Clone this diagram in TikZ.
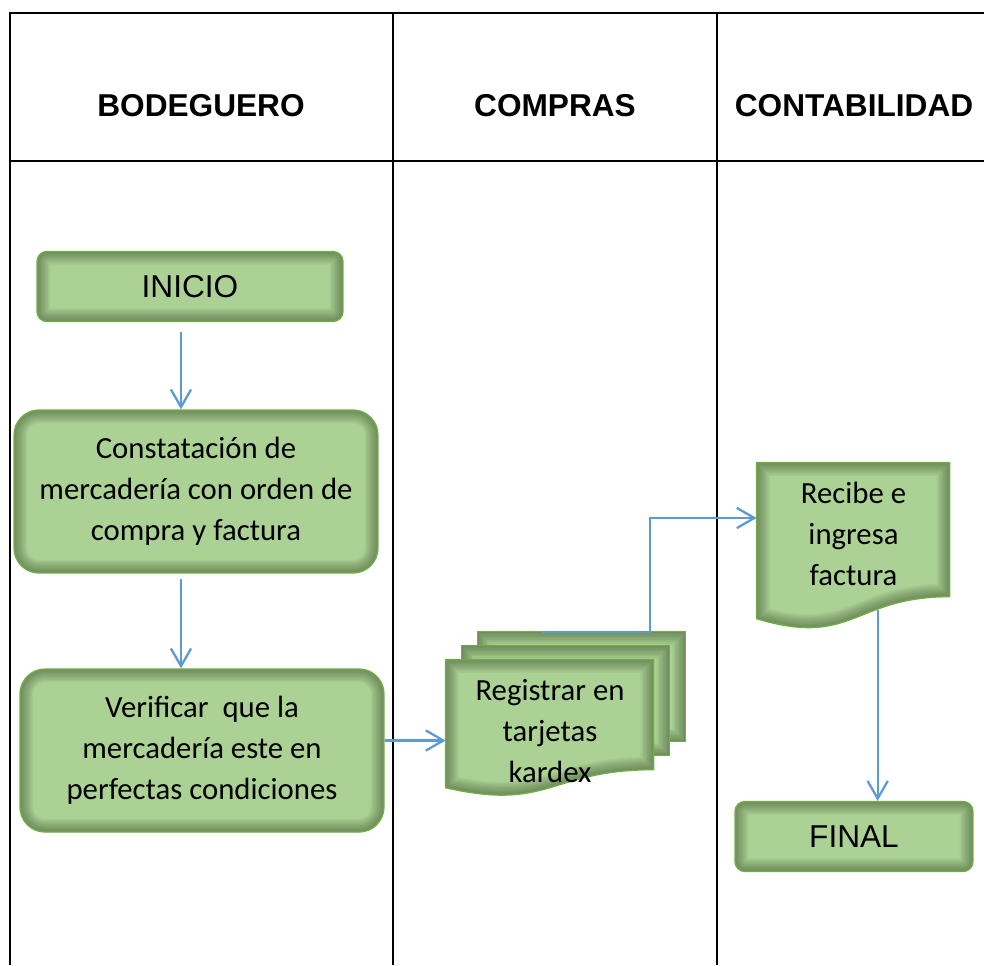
\documentclass[tikz,border=0pt]{standalone}
\usepackage{fontspec}
\setmainfont{Liberation Sans}
\newfontfamily\calibri{Carlito}
\usetikzlibrary{arrows.meta, positioning}

\definecolor{verdecaja}{RGB}{171,209,149}
\definecolor{verdeborde}{RGB}{112,173,71}
\definecolor{sombracaja}{RGB}{45,65,30}
\definecolor{azulflecha}{RGB}{91,155,213}

\pgfdeclarelayer{fondo}
\pgfsetlayers{fondo,main}

% document shape drawn under a node: node, width, right height, left height, dip
\newcommand{\hoja}[5]{%
  \draw[caja, path picture={\foreach \w in {1,...,10}
      \draw[sombra, line width=1.5*\w pt] (#1.north west) -- ++(#2,0) -- ++(0,#3) .. controls +(-#2/2,0) and +(#2/2,#5) .. ([shift={(0,#4)}]#1.north west) -- cycle;}]
    (#1.north west) -- ++(#2,0) -- ++(0,#3) .. controls +(-#2/2,0) and +(#2/2,#5) .. ([shift={(0,#4)}]#1.north west) -- cycle;
}

\begin{document}
\begin{tikzpicture}[x=0.02cm, y=-0.02cm,
    caja/.style={fill=verdecaja, draw=verdeborde, line width=0.8pt},
    sombra/.style={draw=sombracaja, draw opacity=0.055},
    sombreado/.style={path picture={\foreach \w in {1,...,10}
        \draw[sombra, line width=1.5*\w pt, rounded corners=#1] (path picture bounding box.south west) rectangle (path picture bounding box.north east);}},
    terminal/.style={caja, rounded corners=0.2cm, sombreado=0.2cm, minimum width=#1, minimum height=1.4cm, font=\fontsize{18}{22}\selectfont},
    proceso/.style={caja, rounded corners=0.5cm, sombreado=0.5cm, minimum width=7.28cm, minimum height=3.26cm, align=center, font=\calibri\fontsize{17.5}{23.3}\selectfont},
    documento/.style={minimum width=#1, minimum height=2.84cm, inner sep=0pt, align=center, font=\calibri\fontsize{17.5}{23.3}\selectfont},
    titulo/.style={font=\bfseries\fontsize{18}{22}\selectfont},
    linea/.style={line width=1.1pt},
    flujo/.style={draw=azulflecha, line width=1.3pt, -{Straight Barb[length=10pt, width=11.5pt]}}
  ]
    \useasboundingbox (0,0) rectangle (984,965);

    % Table
    \draw[linea] (984,13) -- (10,13) -- (10,965);
    \draw[linea] (10,161) -- (984,161);
    \foreach \x in {393,717}
        \draw[linea] (\x,13) -- (\x,965);

    % Headers
    \node[titulo] (bodeguero) at (201,106) {BODEGUERO};
    \node[titulo] (compras) at (555,106) {COMPRAS};
    \node[titulo] (contabilidad) at (854,106) {CONTABILIDAD};

    % Nodes
    \node[terminal=6.12cm] (inicio) at (190,286.5) {INICIO};
    \node[proceso] (constat) at (196,491.5) {Constatación de\\mercadería con orden de\\compra y factura};
    \node[proceso] (verificar) at (202,750.5) {Verificar\ \ que la\\mercadería este en\\perfectas condiciones};
    \node[documento=4.16cm] (registrar) at (550,731) {Registrar en\\tarjetas\\kardex};
    \node[documento=3.86cm] (recibe) at (853.5,534) {Recibe e\\ingresa\\factura};
    \node[terminal=4.76cm] (final) at (854,836.5) {FINAL};

    % Document shapes
    \begin{pgfonlayer}{fondo}
        \foreach \k in {2,1}
            \draw[caja, sombreado=0pt] ([shift={(16*\k,-14*\k)}]registrar.north west) rectangle ++(208,110);
        \hoja{registrar}{208}{110}{128}{24}
        \hoja{recibe}{193}{134}{156}{29}
    \end{pgfonlayer}

    % Arrows
    \coordinate (a1) at ([shift={(-9,10)}]inicio.south);
    \coordinate (a2) at ([shift={(-15,5)}]constat.south);
    \coordinate (a3) at ([shift={(0,-10)}]verificar.east);
    \coordinate (a4) at ([shift={(96,-28)}]registrar.north west);
    \coordinate (a5) at ([shift={(121,147)}]recibe.north west);
    \draw[flujo] (a1) -- (a1 |- constat.north);
    \draw[flujo] (a2) -- (a2 |- verificar.north);
    \draw[flujo] (a3) -- (a3 -| registrar.west);
    \draw[flujo] (a4) -- ++(108,0) |- ([shift={(0,-16)}]recibe.west);
    \draw[flujo] (a5) -- (a5 |- final.north);
\end{tikzpicture}
\end{document}
